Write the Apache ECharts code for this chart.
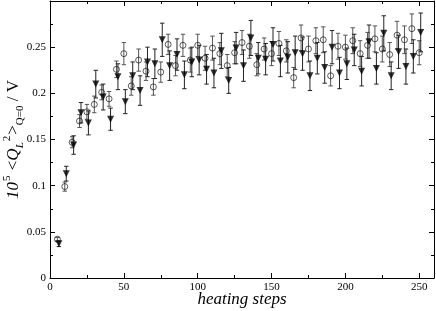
<!DOCTYPE html>
<html><head><meta charset="utf-8">
<script src="https://cdn.jsdelivr.net/npm/echarts@6/dist/echarts.min.js"></script>
<style>html,body{margin:0;padding:0;background:#fff}#c{width:436px;height:311px}</style>
</head><body><div id="c"></div>
<script>
// circles (open) : x, value, error
const circleX = [5,10,15,20,25,30,35,40,45,50,55,60,65,70,75,80,85,90,95,100,105,110,115,120,125,130,135,140,145,150,155,160,165,170,175,180,185,190,195,200,205,210,215,220,225,230,235,240,245,250];
const circleY = [0.042,0.099,0.147,0.170,0.180,0.188,0.201,0.194,0.226,0.243,0.208,0.236,0.224,0.207,0.223,0.253,0.230,0.252,0.236,0.252,0.238,0.249,0.243,0.230,0.244,0.255,0.251,0.231,0.248,0.243,0.254,0.246,0.217,0.260,0.248,0.257,0.258,0.219,0.251,0.250,0.257,0.243,0.252,0.259,0.248,0.242,0.263,0.258,0.270,0.244];
const circleErr = [0.002,0.005,0.006,0.007,0.008,0.009,0.008,0.008,0.009,0.012,0.010,0.012,0.010,0.009,0.011,0.011,0.011,0.012,0.013,0.012,0.013,0.013,0.012,0.012,0.012,0.013,0.013,0.012,0.012,0.013,0.013,0.012,0.011,0.014,0.014,0.014,0.014,0.011,0.014,0.013,0.014,0.014,0.014,0.014,0.014,0.013,0.015,0.015,0.016,0.013];
// filled down-triangles : x, value, error
const triX = [6,11,16,21,26,31,36,41,46,51,56,61,66,71,76,81,86,91,96,101,106,111,116,121,126,131,136,141,146,151,156,161,166,171,176,181,186,191,196,201,206,211,216,221,226,231,236,241,246,251];
const triY = [0.037,0.113,0.144,0.179,0.168,0.210,0.196,0.172,0.218,0.191,0.219,0.203,0.234,0.232,0.258,0.230,0.242,0.220,0.234,0.236,0.226,0.222,0.246,0.214,0.249,0.230,0.260,0.238,0.237,0.253,0.235,0.239,0.244,0.243,0.219,0.238,0.228,0.250,0.222,0.232,0.247,0.224,0.256,0.227,0.265,0.219,0.245,0.229,0.240,0.266];
const triErr = [0.003,0.008,0.010,0.011,0.013,0.015,0.014,0.012,0.014,0.013,0.015,0.016,0.016,0.016,0.018,0.016,0.017,0.015,0.016,0.016,0.016,0.016,0.019,0.014,0.017,0.017,0.019,0.017,0.017,0.018,0.017,0.017,0.018,0.018,0.016,0.017,0.017,0.018,0.017,0.017,0.017,0.016,0.018,0.017,0.019,0.015,0.018,0.019,0.018,0.021];
const xTicks = [0,50,100,150,200,250];
const yTicks = [0,0.05,0.1,0.15,0.2,0.25];

const serif = '"Liberation Serif","DejaVu Serif",serif';
const chart = echarts.init(document.getElementById('c'));

function errData(xs, ys, es){ return xs.map((x,i)=>[x, ys[i]-es[i], ys[i]+es[i]]); }
function errRender(color){
  return function(params, api){
    const x = api.value(0);
    const lo = api.coord([x, api.value(1)]);
    const hi = api.coord([x, api.value(2)]);
    const w = 2.2;
    const st = {stroke: color, lineWidth: 1};
    return {type:'group', children:[
      {type:'line', shape:{x1:lo[0],y1:lo[1],x2:hi[0],y2:hi[1]}, style:st},
      {type:'line', shape:{x1:lo[0]-w,y1:lo[1],x2:lo[0]+w,y2:lo[1]}, style:st},
      {type:'line', shape:{x1:hi[0]-w,y1:hi[1],x2:hi[0]+w,y2:hi[1]}, style:st}
    ]};
  };
}

const axisCommon = {
  axisLine:{show:true, onZero:false, lineStyle:{color:'#000', width:1}},
  axisTick:{show:true, inside:true, length:5, lineStyle:{color:'#000'}},
  minorTick:{show:true, splitNumber:2, length:3, lineStyle:{color:'#000'}},
  splitLine:{show:false}
};

chart.setOption({
  animation:false,
  grid:{left:50, right:2, top:1, bottom:33, outerBoundsMode:'none', containLabel:false},
  xAxis:[
    Object.assign({type:'value', min:0, max:260, interval:50, position:'bottom',
      name:'heating steps', nameLocation:'middle', nameGap:13, nameMoveOverlap:false,
      nameTextStyle:{fontFamily:serif, fontStyle:'italic', fontSize:17, color:'#000'},
      axisLabel:{fontFamily:serif, fontSize:11, color:'#000', margin:4, showMaxLabel:false,
        formatter:v=> xTicks.indexOf(v)>=0 ? String(v) : ''}}, axisCommon),
    Object.assign({type:'value', min:0, max:260, interval:50, position:'top',
      axisLabel:{show:false}}, axisCommon)
  ],
  yAxis:[
    Object.assign({type:'value', min:0, max:0.3, interval:0.05, position:'left',
      name:'{it|10}{sup|5} {n|<}{it|Q}{subi|L}{sup|2}{n|>}{sub|Q=0}{n| / V}', nameLocation:'middle', nameGap:24, nameRotate:90, nameMoveOverlap:false,
      nameTextStyle:{fontFamily:serif, fontSize:17, color:'#000', rich:{
        n:{fontFamily:serif, fontSize:17, color:'#000', lineHeight:24},
        it:{fontFamily:serif, fontSize:17, fontStyle:'italic', color:'#000', lineHeight:24},
        sup:{fontFamily:serif, fontSize:11, color:'#000', verticalAlign:'top', lineHeight:24, padding:[0,1,0,1]},
        sub:{fontFamily:serif, fontSize:11, color:'#000', verticalAlign:'bottom', lineHeight:24},
        subi:{fontFamily:serif, fontSize:11, fontStyle:'italic', color:'#000', verticalAlign:'bottom', lineHeight:24}
      }},
      axisLabel:{fontFamily:serif, fontSize:11, color:'#000', margin:4, showMaxLabel:false,
        formatter:v=> { const f = yTicks.find(t=>Math.abs(t-v)<1e-9); return f===undefined ? '' : String(f); }}}, axisCommon),
    Object.assign({type:'value', min:0, max:0.3, interval:0.05, position:'right',
      axisLabel:{show:false}}, axisCommon)
  ],
  series:[
    {type:'custom', renderItem:errRender('#555'), data:errData(circleX, circleY, circleErr), encode:{x:0,y:[1,2]}, z:2, silent:true},
    {type:'scatter', data:circleX.map((x,i)=>[x,circleY[i]]), symbol:'circle', symbolSize:6,
      itemStyle:{color:'rgba(255,255,255,0)', borderColor:'#000', borderWidth:0.8}, z:3},
    {type:'custom', renderItem:errRender('#222'), data:errData(triX, triY, triErr), encode:{x:0,y:[1,2]}, z:4, silent:true},
    {type:'scatter', data:triX.map((x,i)=>[x,triY[i]]), symbol:'triangle', symbolRotate:180, symbolSize:7,
      itemStyle:{color:'#000'}, z:5}
  ]
});
</script>
</body></html>
